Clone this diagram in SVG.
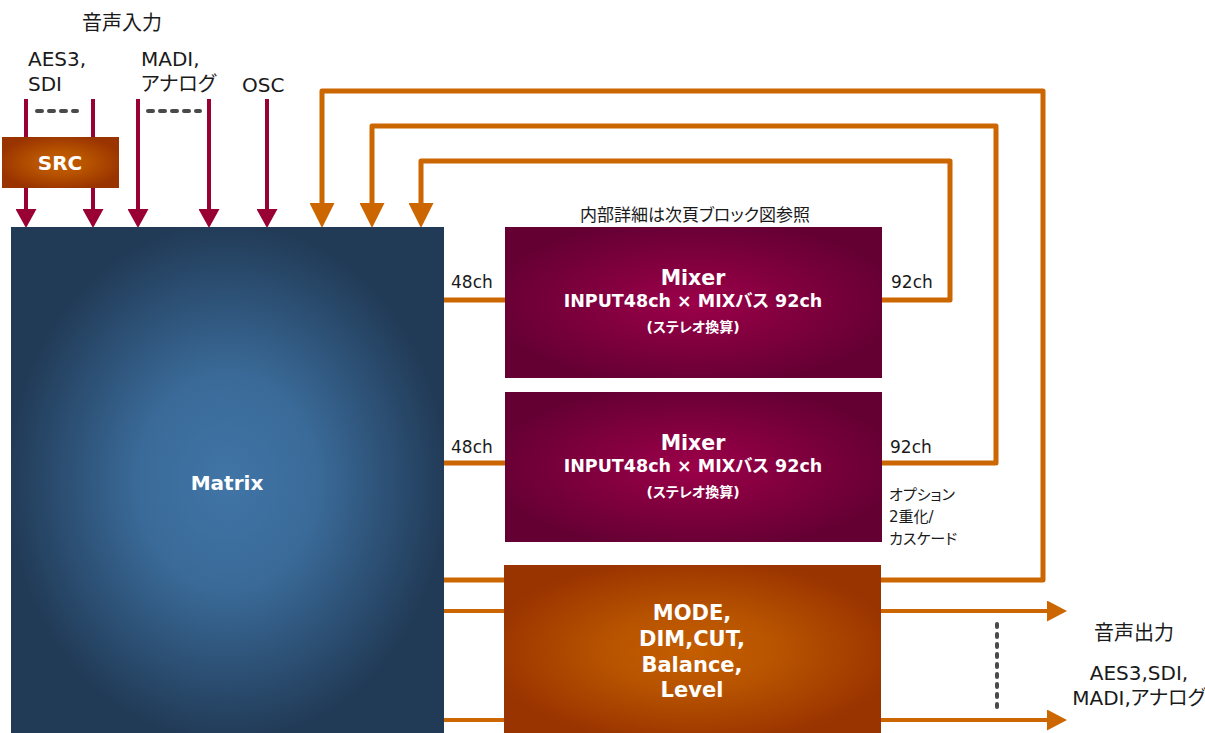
<svg xmlns="http://www.w3.org/2000/svg" width="1205" height="733" viewBox="0 0 1205 733">
<style>
text{font-family:"DejaVu Sans","Noto Sans CJK JP",sans-serif;font-feature-settings:"palt";}
.lbl{fill:#1a1a1a;}
.w{fill:#ffffff;font-weight:bold;text-anchor:middle;}
.crim{fill:none;stroke:#990033;stroke-width:4;}
.or{fill:none;stroke:#CC6600;stroke-width:5;stroke-linejoin:round;}
.or4{fill:none;stroke:#CC6600;stroke-width:4;}
.dash{fill:none;stroke:#4a4a4a;stroke-width:4;stroke-linecap:round;}
</style>
<defs>
<radialGradient id="gMatrix" cx="0.5" cy="0.5" r="0.6">
<stop offset="0" stop-color="#4075A6"/>
<stop offset="0.35" stop-color="#3A6A98"/>
<stop offset="0.85" stop-color="#213A56"/>
<stop offset="1" stop-color="#213A56"/>
</radialGradient>
<radialGradient id="gMixer" cx="0.5" cy="0.5" r="0.55">
<stop offset="0" stop-color="#9C0049"/>
<stop offset="1" stop-color="#650033"/>
</radialGradient>
<radialGradient id="gOrange" cx="0.5" cy="0.5" r="0.55">
<stop offset="0" stop-color="#C45E00"/>
<stop offset="0.4" stop-color="#B85400"/>
<stop offset="1" stop-color="#993300"/>
</radialGradient>
<marker id="mCrim" markerUnits="userSpaceOnUse" viewBox="0 0 19 21" refX="9" refY="10.5" markerWidth="19" markerHeight="21" orient="auto">
<path d="M0,0 L19,10.5 L0,21 z" fill="#990033"/>
</marker>
<marker id="mOrBig" markerUnits="userSpaceOnUse" viewBox="0 0 25 25" refX="12" refY="12.5" markerWidth="25" markerHeight="25" orient="auto">
<path d="M0,0 L25,12.5 L0,25 z" fill="#CC6600"/>
</marker>
<marker id="mOr" markerUnits="userSpaceOnUse" viewBox="0 0 20 21" refX="10" refY="10.5" markerWidth="20" markerHeight="21" orient="auto">
<path d="M0,0 L20,10.5 L0,21 z" fill="#CC6600"/>
</marker>
</defs>

<g id="connectors">
<path class="crim" d="M26,99 V218" marker-end="url(#mCrim)"/>
<path class="crim" d="M93,99 V218" marker-end="url(#mCrim)"/>
<path class="crim" d="M138,99 V218" marker-end="url(#mCrim)"/>
<path class="crim" d="M209,99 V218" marker-end="url(#mCrim)"/>
<path class="crim" d="M267,99 V218" marker-end="url(#mCrim)"/>
<path class="dash" d="M37,111 H77" stroke-dasharray="5 7"/>
<path class="dash" d="M148,111 H200" stroke-dasharray="5 7"/>
<path class="or" d="M444,580 H1043 V91 H322 V215" marker-end="url(#mOrBig)"/>
<path class="or" d="M880,463 H996 V126 H372 V215" marker-end="url(#mOrBig)"/>
<path class="or" d="M880,300 H950 V161 H421 V215" marker-end="url(#mOrBig)"/>
<path class="or" d="M444,300 H506"/>
<path class="or" d="M444,463 H506"/>
<path class="or4" d="M444,611 H1057" marker-end="url(#mOr)"/>
<path class="or4" d="M444,720 H1057" marker-end="url(#mOr)"/>
<path class="dash" d="M997,624 V712" stroke-dasharray="3 7" stroke-width="3.5"/>
</g>

<g id="src">
<rect x="2" y="137" width="117" height="51" fill="url(#gOrange)"/>
<text class="w" x="60" y="170" font-size="20">SRC</text>
</g>

<g id="matrix">
<rect x="11" y="227" width="433" height="510" fill="url(#gMatrix)"/>
<text class="w" x="227" y="490" font-size="20">Matrix</text>
</g>

<g id="mixer1">
<rect x="505" y="227" width="377" height="151" fill="url(#gMixer)"/>
<text class="w" x="693" y="285" font-size="20.5">Mixer</text>
<text class="w" x="693" y="307" font-size="17.5">INPUT48ch × MIXバス 92ch</text>
<text class="w" x="693" y="332" font-size="14">(ステレオ換算)</text>
</g>

<g id="mixer2">
<rect x="505" y="392" width="377" height="150" fill="url(#gMixer)"/>
<text class="w" x="693" y="450" font-size="20.5">Mixer</text>
<text class="w" x="693" y="472" font-size="17.5">INPUT48ch × MIXバス 92ch</text>
<text class="w" x="693" y="497" font-size="14">(ステレオ換算)</text>
</g>

<g id="monitor">
<rect x="504" y="565" width="377" height="172" fill="url(#gOrange)"/>
<text class="w" x="692" y="620" font-size="21">MODE,</text>
<text class="w" x="692" y="646" font-size="21">DIM,CUT,</text>
<text class="w" x="692" y="672" font-size="21">Balance,</text>
<text class="w" x="692" y="697" font-size="21">Level</text>
</g>

<g id="labels">
<text class="lbl" x="122" y="30" font-size="20" text-anchor="middle">音声入力</text>
<text class="lbl" x="28" y="66" font-size="20">AES3,</text>
<text class="lbl" x="28" y="91" font-size="20">SDI</text>
<text class="lbl" x="141" y="66" font-size="20">MADI,</text>
<text class="lbl" x="141" y="91" font-size="20">アナログ</text>
<text class="lbl" x="242" y="92" font-size="20">OSC</text>
<text class="lbl" x="695" y="221" font-size="17" text-anchor="middle">内部詳細は次頁ブロック図参照</text>
<text class="lbl" x="451" y="288" font-size="17">48ch</text>
<text class="lbl" x="451" y="453" font-size="17">48ch</text>
<text class="lbl" x="891" y="288" font-size="17">92ch</text>
<text class="lbl" x="890" y="453" font-size="17">92ch</text>
<text class="lbl" x="889" y="500" font-size="15">オプション</text>
<text class="lbl" x="889" y="522" font-size="15">2重化/</text>
<text class="lbl" x="889" y="544" font-size="15">カスケード</text>
<text class="lbl" x="1134" y="640" font-size="20" text-anchor="middle">音声出力</text>
<text class="lbl" x="1139" y="680" font-size="20" text-anchor="middle">AES3,SDI,</text>
<text class="lbl" x="1139" y="705" font-size="20" text-anchor="middle">MADI,アナログ</text>
</g>
</svg>
